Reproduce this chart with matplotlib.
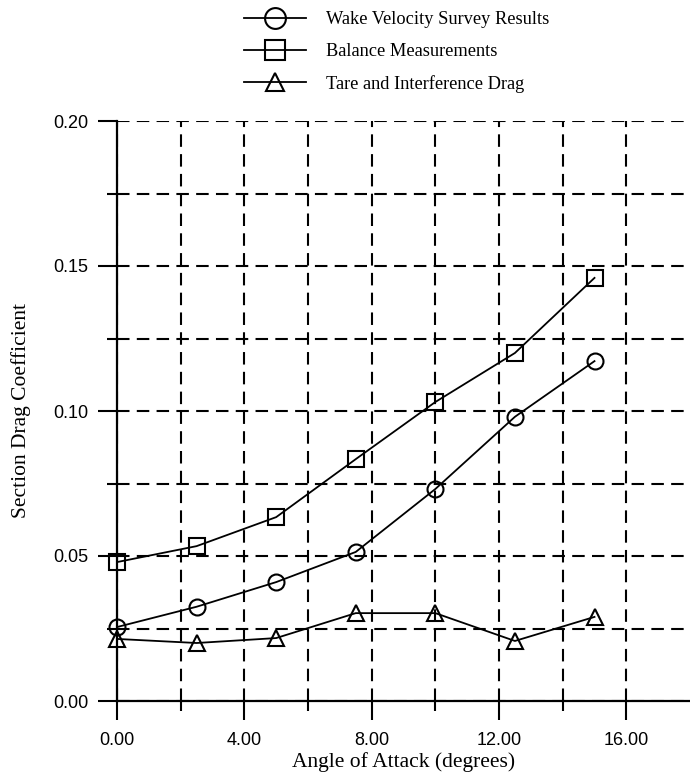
import matplotlib
matplotlib.use("Agg")
import matplotlib.pyplot as plt
from matplotlib.ticker import FixedLocator, FormatStrFormatter
from matplotlib.lines import Line2D

# Angle of attack (degrees)
alpha = [0.0, 2.5, 5.0, 7.5, 10.0, 12.5, 15.0]

# Section drag coefficient for each method
wake_cd = [0.0255, 0.0325, 0.0410, 0.0514, 0.0731, 0.0980, 0.1172]
balance_cd = [0.0479, 0.0534, 0.0634, 0.0834, 0.1031, 0.1200, 0.1459]
tare_cd = [0.0214, 0.0200, 0.0217, 0.0303, 0.0303, 0.0207, 0.0290]

series_labels = ["Wake Velocity Survey Results",
                 "Balance Measurements",
                 "Tare and Interference Drag"]

x_major = [0, 4, 8, 12, 16]
x_minor = [2, 6, 10, 14]
y_major = [0.00, 0.05, 0.10, 0.15, 0.20]
y_minor = [0.025, 0.075, 0.125, 0.175]

W, H = 690, 777
fig = plt.figure(figsize=(W / 100, H / 100), dpi=100)
ax = fig.add_axes([117 / W, 76 / H, 573 / W, 580 / H])

serif = ["Liberation Serif", "DejaVu Serif"]
sans = ["Liberation Sans", "DejaVu Sans"]

ax.set_xlim(0, 18)
ax.set_ylim(0, 0.20)

ax.xaxis.set_major_locator(FixedLocator(x_major))
ax.xaxis.set_minor_locator(FixedLocator(x_minor))
ax.yaxis.set_major_locator(FixedLocator(y_major))
ax.yaxis.set_minor_locator(FixedLocator(y_minor))
ax.xaxis.set_major_formatter(FormatStrFormatter("%.2f"))
ax.yaxis.set_major_formatter(FormatStrFormatter("%.2f"))

ax.tick_params(which="major", direction="out", length=13.5, width=1.5,
               labelsize=13, pad=7)
ax.tick_params(which="minor", direction="out", length=7, width=1.5)
ax.tick_params(axis="x", which="major", pad=9)
for lab in ax.get_xticklabels() + ax.get_yticklabels():
    lab.set_family(sans)

for side in ("top", "right"):
    ax.spines[side].set_visible(False)
for side in ("left", "bottom"):
    ax.spines[side].set_linewidth(1.6)

ax.grid(True, which="both", color="black", linestyle=(0, (6, 3.5)),
        linewidth=1.5)
ax.set_axisbelow(True)

line_kw = dict(color="black", linewidth=1.3, markerfacecolor="none",
               markeredgecolor="black", markeredgewidth=1.5, clip_on=False,
               zorder=4)
ax.plot(alpha, wake_cd, marker="o", markersize=11.5, **line_kw)
ax.plot(alpha, balance_cd, marker="s", markersize=11.5, **line_kw)
ax.plot(alpha, tare_cd, marker="^", markersize=11, **line_kw)

ax.set_xlabel("Angle of Attack (degrees)", family=serif, fontsize=15.5,
              labelpad=2)
ax.set_ylabel("Section Drag Coefficient", family=serif, fontsize=15.5)
ax.yaxis.set_label_coords(-0.15, 0.5)

handles = [
    Line2D([], [], color="black", linewidth=1.3, marker="o", markersize=15,
           markerfacecolor="none", markeredgewidth=1.5),
    Line2D([], [], color="black", linewidth=1.3, marker="s", markersize=14,
           markerfacecolor="none", markeredgewidth=1.5),
    Line2D([], [], color="black", linewidth=1.3, marker="^", markersize=13,
           markerfacecolor="none", markeredgewidth=1.5),
]
fig.legend(handles, series_labels, loc="upper left",
           bbox_to_anchor=(227 / W, 1.0 + 5 / H), frameon=False,
           prop={"family": serif, "size": 13.2}, handlelength=3.4,
           handletextpad=1.1, labelspacing=0.8)

fig.savefig("out.png", dpi=100)
